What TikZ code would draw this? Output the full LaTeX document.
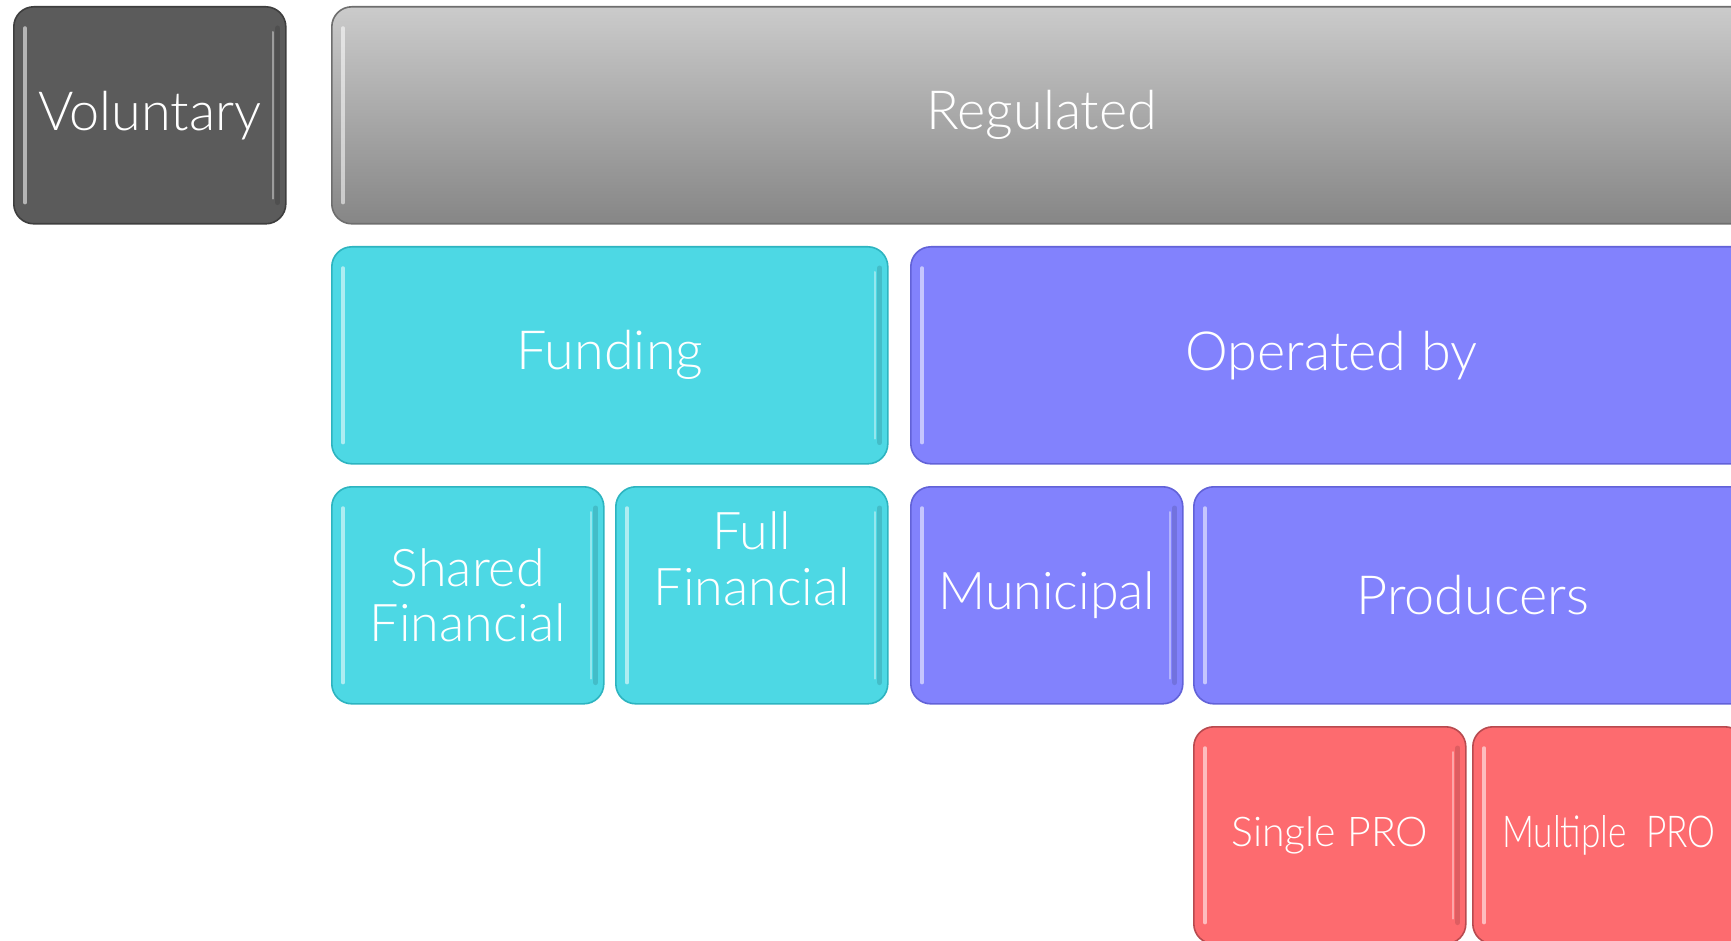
\documentclass[tikz,border=0pt]{standalone}
\usepackage{fontspec}
\setmainfont{Lato Light}
\definecolor{volfill}{HTML}{5B5B5B}
\definecolor{voldraw}{HTML}{3E3E3E}
\definecolor{regtop}{HTML}{CBCBCB}
\definecolor{regbot}{HTML}{868686}
\definecolor{regdraw}{HTML}{6E6E6E}
\definecolor{cyfill}{HTML}{4DD8E4}
\definecolor{cydraw}{HTML}{2DB4C0}
\definecolor{blfill}{HTML}{8282FD}
\definecolor{bldraw}{HTML}{6262D8}
\definecolor{rdfill}{HTML}{FD6B6F}
\definecolor{rddraw}{HTML}{B84A4F}
\begin{document}
\begin{tikzpicture}[x=1pt,y=-1pt,
  box/.style={draw, line width=1.6pt, rounded corners=20pt, anchor=north west,
    inner sep=0pt, text=white, align=center,
    font=\fontsize{54}{56}\selectfont},
  w1/.style={minimum width=272pt},
  h1/.style={minimum height=217pt},
  vol/.style={box, fill=volfill, draw=voldraw},
  reg/.style={box, top color=regtop, bottom color=regbot, draw=regdraw},
  cy/.style={box, fill=cyfill, draw=cydraw},
  bl/.style={box, fill=blfill, draw=bldraw},
  rd/.style={box, fill=rdfill, draw=rddraw, font=\fontsize{41}{44}\selectfont},
  hl/.style={white, opacity=0.55, line width=3.5pt, line cap=round},
  sh/.style={black, opacity=0.12, line width=5pt, line cap=round}
]
\useasboundingbox (0,0) rectangle (1731,941);
\clip (0,0) rectangle (1731,941);
% row 1
\node[vol, w1, h1] (vol) at (13,6) {Voluntary};
\node[reg, minimum width=1420pt, h1] (reg) at (331,6) {Regulated};
% row 2
\node[cy, minimum width=556pt, h1] (fund) at (331,246) {Funding};
\node[bl, minimum width=841pt, h1] (oper) at (910,246) {Operated by};
% row 3
\node[cy, w1, h1, font=\fontsize{52}{55}\selectfont] (shared) at (331,486) {Shared\\Financial};
\node[cy, w1, h1, font=\fontsize{52}{56}\selectfont] (full) at (615,486) {Full\\Financial\\\strut};
\node[bl, w1, h1, font=\fontsize{52}{56}\selectfont] (muni) at (910,486) {Municipal};
\node[bl, minimum width=558pt, h1] (prod) at (1193,486) {Producers};
% row 4
\node[rd, w1, h1] (single) at (1193,726) {Single PRO};
\node[rd, w1, h1, font=\fontsize{44}{48}\selectfont] (multi) at (1472,726) {\raisebox{-8pt}{\scalebox{0.8}[1]{Multiple\ \ PRO}}};
% glossy edge highlights
\foreach \n in {vol,reg,fund,oper,shared,full,muni,prod,single,multi}{
  \draw[hl] ([xshift=12pt,yshift=-22pt]\n.north west) -- ([xshift=12pt,yshift=22pt]\n.south west);
  \draw[sh] ([xshift=-9pt,yshift=-22pt]\n.north east) -- ([xshift=-9pt,yshift=22pt]\n.south east);
  \draw[hl, opacity=0.4, line width=2pt] ([xshift=-14pt,yshift=-26pt]\n.north east) -- ([xshift=-14pt,yshift=26pt]\n.south east);
}
\end{tikzpicture}
\end{document}
